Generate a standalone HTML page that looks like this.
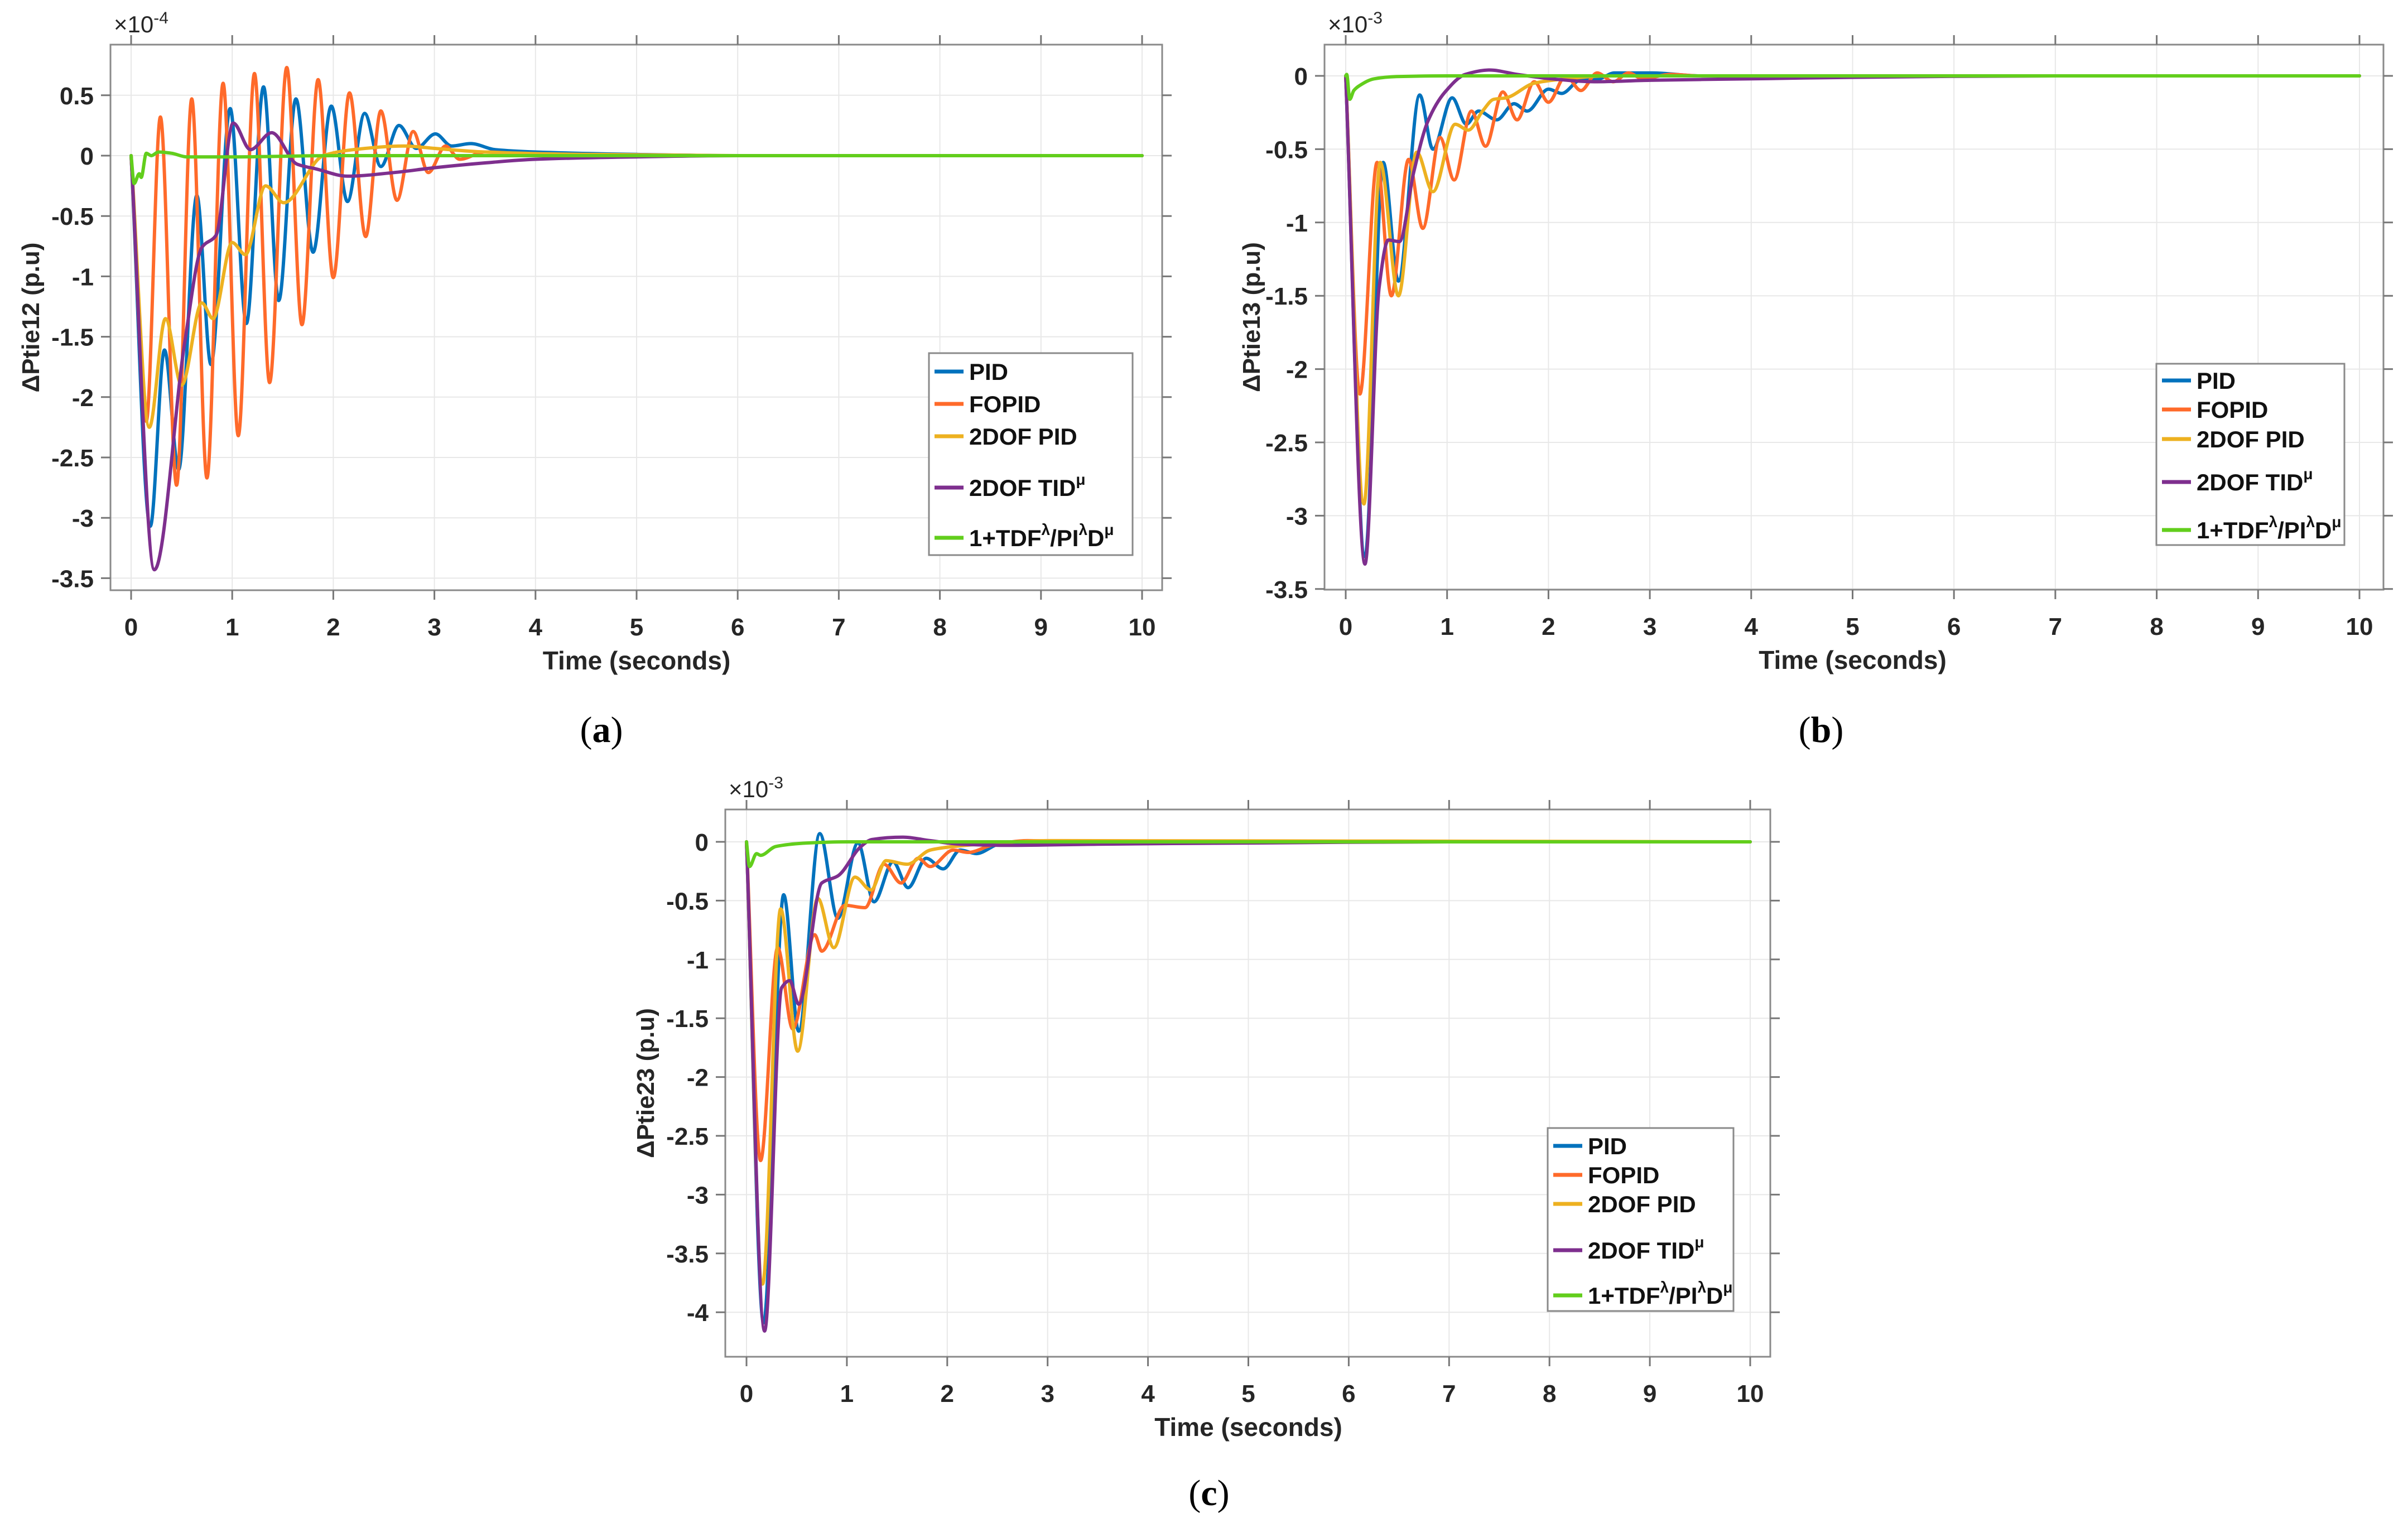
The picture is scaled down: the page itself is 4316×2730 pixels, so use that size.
<!DOCTYPE html>
<html><head><meta charset="utf-8"><style>
html,body{margin:0;padding:0;background:#fff;}
svg{display:block;font-family:"Liberation Sans",sans-serif;}
</style></head><body>
<svg id="fig" width="4316" height="2730" viewBox="0 0 4316 2730" xmlns="http://www.w3.org/2000/svg"></svg>
<script>
// ---------- DATA (panel a, x1e-4) ----------
const tA_PID=[0,0.19,0.33,0.47,0.65,0.79,0.98,1.14,1.31,1.46,1.63,1.8,1.98,2.14,2.31,2.47,2.65,2.82,3.01,3.17,3.36,3.6,4,5,6,10];
const vA_PID=[0,-3.07,-1.61,-2.6,-0.33,-1.73,0.39,-1.39,0.57,-1.2,0.47,-0.8,0.41,-0.38,0.35,-0.09,0.25,0.06,0.18,0.08,0.1,0.05,0.03,0.01,0,0];
const tA_FOPID=[0,0.15,0.29,0.45,0.6,0.75,0.91,1.06,1.22,1.37,1.54,1.69,1.85,2.0,2.16,2.32,2.47,2.63,2.79,2.94,3.11,3.25,3.5,4,5,10];
const vA_FOPID=[0,-2.2,0.32,-2.73,0.47,-2.67,0.6,-2.32,0.68,-1.88,0.73,-1.4,0.63,-1.01,0.52,-0.67,0.37,-0.37,0.2,-0.14,0.08,-0.03,0.03,0.01,0,0];
const tA_2DOF=[0,0.18,0.34,0.5,0.7,0.81,1.0,1.13,1.33,1.51,1.9,2.2,2.7,3.0,3.5,4.5,6,10];
const vA_2DOF=[0,-2.25,-1.35,-1.9,-1.22,-1.35,-0.72,-0.82,-0.25,-0.39,0,0.05,0.08,0.06,0.03,0.01,0,0];
const tA_TID=[0,0.23,0.53,0.7,0.84,1.01,1.18,1.39,1.64,1.83,2.14,2.6,3,3.5,4,5,6,10];
const vA_TID=[0,-3.43,-1.55,-0.76,-0.66,0.27,0.05,0.19,-0.07,-0.11,-0.17,-0.14,-0.1,-0.06,-0.03,-0.01,0,0];
const tA_NEW=[0,0.03,0.08,0.1,0.15,0.2,0.27,0.4,0.55,1,2,10];
const vA_NEW=[0,-0.23,-0.15,-0.18,0.02,0,0.03,0.02,-0.01,-0.01,0,0];
// ---------- DATA (panel b, x1e-3) ----------
const tB_PID=[0,0.19,0.37,0.52,0.73,0.86,1.05,1.19,1.31,1.49,1.66,1.79,2.0,2.13,2.31,2.5,2.65,3.02,3.5,10];
const vB_PID=[0,-3.28,-0.59,-1.4,-0.13,-0.5,-0.15,-0.33,-0.24,-0.3,-0.19,-0.24,-0.09,-0.12,-0.03,-0.02,0.02,0.02,0,0];
const tB_FOPID=[0,0.14,0.31,0.45,0.62,0.76,0.93,1.07,1.24,1.38,1.55,1.69,1.86,2.0,2.17,2.32,2.48,2.64,2.79,2.93,3.2,3.5,10];
const vB_FOPID=[0,-2.17,-0.59,-1.5,-0.57,-1.04,-0.42,-0.71,-0.24,-0.48,-0.11,-0.3,-0.04,-0.18,0,-0.1,0.02,-0.04,0.02,-0.02,0.01,0,0];
const tB_2DOF=[0,0.18,0.34,0.52,0.7,0.86,1.08,1.21,1.35,1.46,1.58,1.86,2.17,2.6,10];
const vB_2DOF=[0,-2.92,-0.59,-1.5,-0.52,-0.79,-0.33,-0.37,-0.24,-0.16,-0.15,-0.05,-0.02,0,0];
const tB_TID=[0,0.19,0.33,0.42,0.53,0.67,0.81,0.98,1.18,1.42,1.69,2.03,2.45,3,4,5,7,10];
const vB_TID=[0,-3.33,-1.44,-1.12,-1.13,-0.66,-0.31,-0.11,0.01,0.04,0.01,-0.02,-0.04,-0.03,-0.02,-0.01,0,0];
const tB_NEW=[0,0.01,0.04,0.08,0.14,0.28,0.5,1,10];
const vB_NEW=[0,0.01,-0.16,-0.1,-0.065,-0.02,-0.005,0,0];
// ---------- DATA (panel c, x1e-3) ----------
const tC_PID=[0,0.17,0.37,0.52,0.73,0.91,1.11,1.27,1.46,1.61,1.79,1.96,2.13,2.29,2.52,3,10];
const vC_PID=[0,-4.09,-0.45,-1.61,0.07,-0.65,-0.01,-0.51,-0.17,-0.39,-0.14,-0.23,-0.07,-0.1,-0.02,0,0];
const tC_FOPID=[0,0.14,0.31,0.46,0.68,0.75,0.98,1.18,1.37,1.54,1.71,1.83,2.06,2.21,2.44,2.8,3.5,10];
const vC_FOPID=[0,-2.71,-0.9,-1.59,-0.79,-0.93,-0.54,-0.56,-0.19,-0.35,-0.14,-0.21,-0.07,-0.09,-0.03,0.01,0,0];
const tC_2DOF=[0,0.16,0.34,0.51,0.71,0.87,1.08,1.24,1.39,1.6,1.83,2.06,2.5,3,10];
const vC_2DOF=[0,-3.76,-0.57,-1.78,-0.48,-0.9,-0.3,-0.41,-0.16,-0.19,-0.07,-0.04,-0.01,0.01,0];
const tC_TID=[0,0.18,0.35,0.43,0.52,0.75,0.91,1.14,1.25,1.56,1.83,2.13,2.6,3.5,5,7,10];
const vC_TID=[0,-4.16,-1.24,-1.18,-1.38,-0.35,-0.29,-0.04,0.02,0.04,0.01,-0.02,-0.03,-0.02,-0.01,0,0];
const tC_NEW=[0,0.03,0.1,0.14,0.29,0.6,1,10];
const vC_NEW=[0,-0.21,-0.1,-0.115,-0.04,-0.01,0,0];

const xTicks=[0,1,2,3,4,5,6,7,8,9,10];
const yTicksA=[0.5,0,-0.5,-1,-1.5,-2,-2.5,-3,-3.5];
const yTicksB=[0,-0.5,-1,-1.5,-2,-2.5,-3,-3.5];
const yTicksC=[0,-0.5,-1,-1.5,-2,-2.5,-3,-3.5,-4];
const seriesNames=["PID","FOPID","2DOF PID","2DOF TID","1+TDF"];

const COLORS={PID:"#0072BD",FOPID:"#FF6A2A","2DOF PID":"#EDB120","2DOF TID":"#7E2F8E","1+TDF":"#62CE1C"};
const NS="http://www.w3.org/2000/svg";
const svg=document.getElementById('fig');
function el(tag,attrs,parent){const e=document.createElementNS(NS,tag);for(const k in attrs)e.setAttribute(k,attrs[k]);(parent||svg).appendChild(e);return e;}
function fmt(v){return String(v);}

function monoPath(X,Y){
  const n=X.length;const d=[],m=new Array(n);
  for(let i=0;i<n-1;i++)d.push((Y[i+1]-Y[i])/(X[i+1]-X[i]));
  m[0]=d[0];m[n-1]=d[n-2];
  for(let i=1;i<n-1;i++){ if(d[i-1]*d[i]<=0)m[i]=0; else {const h0=X[i]-X[i-1],h1=X[i+1]-X[i];const w1=2*h1+h0,w2=h1+2*h0;m[i]=(w1+w2)/(w1/d[i-1]+w2/d[i]);} }
  let p="M"+X[0].toFixed(1)+" "+Y[0].toFixed(1);
  for(let i=0;i<n-1;i++){const h=(X[i+1]-X[i])/3;
    p+=" C"+(X[i]+h).toFixed(1)+" "+(Y[i]+m[i]*h).toFixed(1)+" "+(X[i+1]-h).toFixed(1)+" "+(Y[i+1]-m[i+1]*h).toFixed(1)+" "+X[i+1].toFixed(1)+" "+Y[i+1].toFixed(1);}
  return p;
}

function panel(cfg){
  const g=el('g',{});
  
  
  const sx=t=>cfg.x0+(cfg.x10-cfg.x0)*t/10;
  const sy=v=>cfg.y0-v*cfg.pyu;
  const L=cfg.box[0],T=cfg.box[1],R=cfg.box[2],B=cfg.box[3];
  // grid
  const grid=el('g',{stroke:"#e8e8e8","stroke-width":2},g);
  
  
  xTicks.forEach(t=>el('line',{x1:sx(t),x2:sx(t),y1:T,y2:B},grid));
  cfg.yt.forEach(v=>el('line',{x1:L,x2:R,y1:sy(v),y2:sy(v)},grid));
  // box
  const box=el('rect',{x:L,y:T,width:R-L,height:B-T,fill:"none",stroke:"#8a8a8a","stroke-width":3},g);
  
  
  const tk=el('g',{stroke:"#777","stroke-width":3},g);
  xTicks.forEach(t=>{el('line',{x1:sx(t),x2:sx(t),y1:B,y2:B+17},tk);el('line',{x1:sx(t),x2:sx(t),y1:T,y2:T-17},tk);});
  cfg.yt.forEach(v=>{el('line',{x1:L,x2:L-17,y1:sy(v),y2:sy(v)},tk);el('line',{x1:R,x2:R+17,y1:sy(v),y2:sy(v)},tk);});
  // tick labels
  xTicks.forEach(t=>{const e=el('text',{x:sx(t),y:B+81,"text-anchor":"middle","font-size":44,"font-weight":"bold",fill:"#262626"},g);e.textContent=fmt(t);
    
    });
  cfg.yt.forEach(v=>{const e=el('text',{x:L-30,y:sy(v)+16,"text-anchor":"end","font-size":44,"font-weight":"bold",fill:"#262626"},g);e.textContent=fmt(v);
    
    });
  // exponent
  const ex=el('text',{x:L+6,y:T-22,"font-size":42,fill:"#262626"},g);
  ex.innerHTML='×10<tspan dy="-16" font-size="30">'+cfg.exp+'</tspan>';
  
  
  // axis labels
  const xl=el('text',{x:(sx(0)+sx(10))/2,y:B+142,"text-anchor":"middle","font-size":46,"font-weight":"bold",fill:"#262626"},g);
  xl.textContent="Time (seconds)";
  
  
  const ylx=cfg.ylx, yly=(T+B)/2;
  const yl=el('text',{x:ylx,y:yly,"text-anchor":"middle","font-size":44,"font-weight":"bold",fill:"#262626",transform:"rotate(-90 "+ylx+" "+yly+")"},g);
  yl.textContent=cfg.ylabel;
  
  
  // series
  const clip=el('clipPath',{id:'clip'+cfg.id},g);
  el('rect',{x:L,y:T,width:R-L,height:B-T},clip);
  const sg=el('g',{"clip-path":"url(#clip"+cfg.id+")",fill:"none","stroke-width":6,"stroke-linejoin":"round","stroke-linecap":"round"},g);
  cfg.series.forEach((s,i)=>{
    const p=el('path',{d:monoPath(s[0].map(sx),s[1].map(sy)),stroke:COLORS[seriesNames[i]]},sg);
    
    
  });
  // legend
  const lg=el('g',{},g);
  
  
  const lb=cfg.leg;
  el('rect',{x:lb.x,y:lb.y,width:lb.w,height:lb.h,fill:"#fff",stroke:"#8a8a8a","stroke-width":3},lg);
  const labels=['PID','FOPID','2DOF PID','2DOF TID<tspan dy="-20" font-size="28">μ</tspan>','1+TDF<tspan dy="-20" font-size="28">λ</tspan><tspan dy="20">/PI</tspan><tspan dy="-20" font-size="28">λ</tspan><tspan dy="20">D</tspan><tspan dy="-20" font-size="28">μ</tspan>'];
  lb.rows.forEach((ry,i)=>{
    const ln=el('line',{x1:lb.x+10,x2:lb.x+62,y1:ry,y2:ry,stroke:COLORS[seriesNames[i]],"stroke-width":7},lg);
    
    
    const t=el('text',{x:lb.x+72,y:ry+15,"font-size":42,"font-weight":"bold",fill:"#111"},lg);
    t.innerHTML=labels[i];
    
    
  });
  // caption
  const cap=el('text',{x:cfg.cap[0],y:cfg.cap[1],"text-anchor":"middle","font-size":66,"font-family":"Liberation Serif, serif",fill:"#000"},g);
  cap.innerHTML='(<tspan font-weight="bold">'+cfg.id+'</tspan>)';
  
  
}

panel({id:'a',box:[198,80,2083,1058],x0:235,x10:2047,y0:279,pyu:216.4,yt:yTicksA,exp:'-4',ylabel:'ΔPtie12 (p.u)',ylx:70,
  series:[[tA_PID,vA_PID],[tA_FOPID,vA_FOPID],[tA_2DOF,vA_2DOF],[tA_TID,vA_TID],[tA_NEW,vA_NEW]],
  leg:{x:1665,y:633,w:365,h:362,rows:[666,724,782,874,964]},cap:[1078,1330]});
panel({id:'b',box:[2374,80,4272,1057],x0:2412,x10:4229,y0:136,pyu:262.8,yt:yTicksB,exp:'-3',ylabel:'ΔPtie13 (p.u)',ylx:2258,
  series:[[tB_PID,vB_PID],[tB_FOPID,vB_FOPID],[tB_2DOF,vB_2DOF],[tB_TID,vB_TID],[tB_NEW,vB_NEW]],
  leg:{x:3865,y:652,w:337,h:325,rows:[682,734,787,864,950]},cap:[3264,1330]});
panel({id:'c',box:[1300,1451,3173,2432],x0:1338,x10:3137,y0:1509,pyu:210.8,yt:yTicksC,exp:'-3',ylabel:'ΔPtie23 (p.u)',ylx:1172,
  series:[[tC_PID,vC_PID],[tC_FOPID,vC_FOPID],[tC_2DOF,vC_2DOF],[tC_TID,vC_TID],[tC_NEW,vC_NEW]],
  leg:{x:2774,y:2022,w:333,h:328,rows:[2054,2106,2158,2241,2322]},cap:[2167,2698]});
</script>
</body></html>
